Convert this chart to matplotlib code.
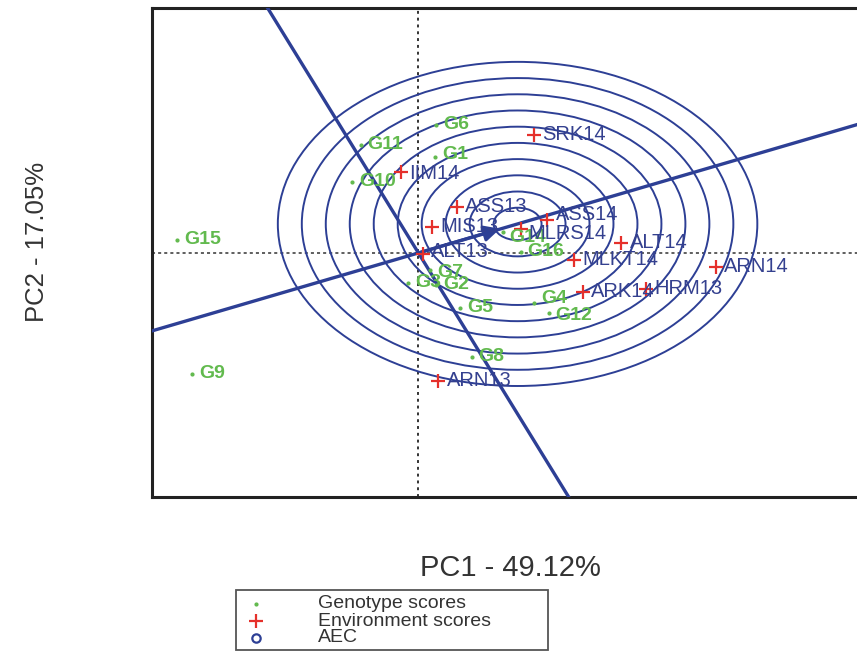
import matplotlib
matplotlib.use("Agg")
import matplotlib.pyplot as plt
from matplotlib.patches import Circle, Rectangle
from matplotlib.lines import Line2D

plt.rcParams['font.family'] = ['Liberation Sans', 'DejaVu Sans']

# genotype scores (PC1, PC2)
geno_names = ['G1', 'G2', 'G3', 'G4', 'G5', 'G6', 'G7', 'G8', 'G9', 'G10',
              'G11', 'G12', 'G14', 'G15', 'G16']
geno_x = [0.115, 0.12, -0.07, 0.78, 0.28, 0.12, 0.08, 0.36, -1.53, -0.45,
          -0.39, 0.88, 0.57, -1.63, 0.69]
geno_y = [0.96, -0.32, -0.30, -0.50, -0.55, 1.28, -0.17, -1.04, -1.21, 0.71,
          1.08, -0.60, 0.21, 0.13, 0.01]

# environment scores (PC1, PC2)
env_names = ['SRK14', 'IIM14', 'ASS13', 'MIS13', 'MLRS14', 'ASS14', 'ALT13',
             'ALT14', 'MLKT14', 'ARN14', 'ARK14', 'HRM13', 'ARN13']
env_x = [0.78, -0.12, 0.26, 0.09, 0.69, 0.87, 0.03,
         1.37, 1.05, 2.01, 1.11, 1.54, 0.135]
env_y = [1.18, 0.81, 0.46, 0.26, 0.24, 0.33, -0.01,
         0.10, -0.07, -0.14, -0.39, -0.36, -1.28]

# average environment coordinate and ideal point
aec_x, aec_y = 0.57, 0.25
ideal_x, ideal_y = 0.67, 0.29
n_circles = 10
circle_step = 0.162

legend_labels = ['Genotype scores', 'Environment scores', 'AEC']

blue = '#2d3f95'
green = '#62ba4e'
red = '#e5302b'
navy = '#34408f'

# small nudges (points) for crowded labels
nudge = {'G4': 3, 'G12': -2, 'G14': -4, 'ASS14': 4, 'MLRS14': -3,
         'G1': 2, 'IIM14': -1, 'G7': -2, 'ALT13': 2}

fig = plt.figure(figsize=(8.57, 6.54), dpi=100)
ax = fig.add_axes([0.1774, 0.240, 0.9895, 0.748])
ax.set_xlim(-1.80, 3.93)
ax.set_ylim(-2.44, 2.45)
ax.set_xticks([])
ax.set_yticks([])
for s in ax.spines.values():
    s.set_color('#222222')
    s.set_linewidth(2.2)

ax.axhline(0, color='#333333', ls=(0, (2, 2)), lw=1.1, zorder=1)
ax.axvline(0, color='#333333', ls=(0, (1.5, 2)), lw=1.4, zorder=1)

for k in range(1, n_circles + 1):
    ax.add_patch(Circle((ideal_x, ideal_y), k * circle_step, fill=False,
                        ec=blue, lw=1.4, zorder=2))

ax.axline((0, 0), (ideal_x, ideal_y), color=blue, lw=2.4, zorder=3)
ax.axline((0, 0), slope=-ideal_x / ideal_y * 1.04, color=blue, lw=2.4, zorder=3)
ax.annotate('', xy=(aec_x, aec_y), xytext=(0, 0),
            arrowprops=dict(arrowstyle='-|>', color=blue, lw=2.2,
                            mutation_scale=24), zorder=4)

ax.plot(geno_x, geno_y, ls='none', marker='.', ms=4, color=green, zorder=5)
for n, x, y in zip(geno_names, geno_x, geno_y):
    ax.annotate(n, (x, y), xytext=(5, nudge.get(n, 0)), textcoords='offset points',
                va='center', ha='left', fontsize=14, fontweight='bold',
                color=green, zorder=6)

ax.plot(env_x, env_y, ls='none', marker='+', ms=10, mew=1.6, color=red, zorder=5)
for n, x, y in zip(env_names, env_x, env_y):
    ax.annotate(n, (x, y), xytext=(6, nudge.get(n, 0)), textcoords='offset points',
                va='center', ha='left', fontsize=14.5, color=navy, zorder=6)

fig.text(510 / 857, 1 - 568 / 654, 'PC1 - 49.12%', ha='center', va='center',
         fontsize=21, color='#333333')
fig.text(37 / 857, 1 - 242 / 654, 'PC2 - 17.05%', ha='center', va='center',
         rotation=90, fontsize=18.5, color='#333333')

# legend box drawn in figure pixels
W, H = 857, 654
fig.patches.append(Rectangle((236 / W, 1 - 650 / H), 312 / W, 60 / H,
                             transform=fig.transFigure, fill=False,
                             ec='#555555', lw=1.3))
legend_styles = [
    dict(marker='.', ms=4, color=green),
    dict(marker='+', ms=10, mew=1.6, color=red),
    dict(marker='o', ms=6, mfc='none', mew=1.6, color=blue),
]
for i, (lab, st) in enumerate(zip(legend_labels, legend_styles)):
    yy = 1 - (604 + 17 * i) / H
    fig.add_artist(Line2D([256 / W], [yy], transform=fig.transFigure,
                          ls='none', **st))
    fig.text(318 / W, yy, lab, ha='left', va='center', fontsize=14,
             color='#333333')

fig.savefig('out.png', dpi=100)
